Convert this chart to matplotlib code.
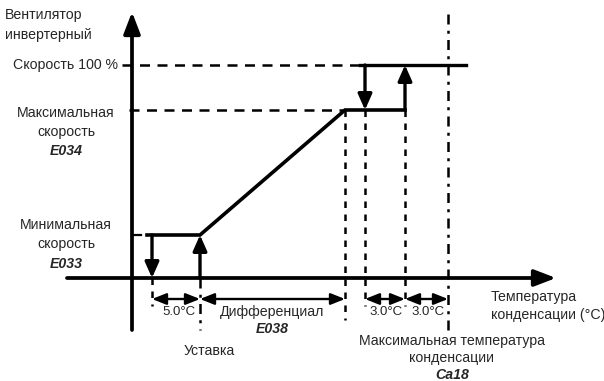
import matplotlib.pyplot as plt

plt.rcParams['font.family'] = ['Liberation Sans', 'DejaVu Sans']

# Schematic coordinates: x = condensing temperature position, y = fan speed level
# (drawing units, y grows downward)
origin_x, origin_y = 132, 278          # where the two axes cross
axis_x_range = [67, 556]               # temperature axis extent
axis_y_range = [330, 12]               # fan speed axis extent

t_cutout = 152       # fan stops (setpoint - 5.0 °C)
t_setpoint = 200     # setpoint
t_diff_end = 345     # setpoint + differential
t_full_off = 365     # leaves 100 % speed
t_full_on = 405      # goes to 100 % speed
t_max_cond = 448     # maximum condensing temperature

speed_min = 235      # E033
speed_max = 110      # E034
speed_full = 65      # 100 %

# operating curve
curve_x = [147, t_setpoint, t_diff_end, t_full_on]
curve_y = [speed_min, speed_min, speed_max, speed_max]
full_x = [360, 466]

dim_y = 299
dim_spans = [(t_cutout, t_setpoint), (t_setpoint, t_diff_end),
             (t_full_off, t_full_on), (t_full_on, t_max_cond)]

txt = '#262626'

fig = plt.figure(figsize=(6.04, 3.81), dpi=100)
ax = fig.add_axes([0, 0, 1, 1])
ax.set_xlim(0, 604)
ax.set_ylim(381, 0)
ax.axis('off')

def arrow(x0, y0, x1, y1, lw=2.4, hw=0.42, hl=0.95):
    ax.annotate('', xy=(x1, y1), xytext=(x0, y0),
                arrowprops=dict(arrowstyle=f'-|>,head_width={hw},head_length={hl}',
                                color='black', lw=lw, shrinkA=0, shrinkB=0))

def dimension(x0, x1, y):
    ax.annotate('', xy=(x1, y), xytext=(x0, y),
                arrowprops=dict(arrowstyle='<|-|>,head_width=0.34,head_length=0.85',
                                color='black', lw=1.7, shrinkA=0, shrinkB=0))

# axes
arrow(axis_x_range[0], origin_y, axis_x_range[1], origin_y, lw=2.7, hw=0.5, hl=1.3)
arrow(origin_x, axis_y_range[0], origin_x, axis_y_range[1], lw=2.7, hw=0.5, hl=1.3)

hdash = dict(color='black', lw=1.8, dashes=(4, 3))
vdash = dict(color='black', lw=1.8, dashes=(2.6, 2.6))
dashdot = dict(color='black', lw=1.8, dashes=(4, 2.5, 1.2, 2.5))
# horizontal reference dashes
ax.plot([122, full_x[0]], [speed_full, speed_full], **hdash)
ax.plot([129, t_diff_end], [speed_max, speed_max], **hdash)
ax.plot([134, 141], [speed_min, speed_min], color='black', lw=1.6)

# vertical reference lines
ax.plot([t_diff_end, t_diff_end], [speed_max, 320], **vdash)
ax.plot([t_full_off, t_full_off], [speed_max, 306], **vdash)
ax.plot([t_full_on, t_full_on], [speed_max, 306], **vdash)
ax.plot([t_cutout, t_cutout], [origin_y, 306], **vdash)
ax.plot([t_setpoint, t_setpoint], [origin_y, 330], **dashdot)
ax.plot([t_max_cond, t_max_cond], [14, 330], **dashdot)

# operating curve
ax.plot(curve_x, curve_y, color='black', lw=2.6, solid_joinstyle='miter')
ax.plot(full_x, [speed_full, speed_full], color='black', lw=2.4)
arrow(t_cutout, speed_min, t_cutout, origin_y)
arrow(t_setpoint, origin_y, t_setpoint, speed_min)
arrow(t_full_off, speed_full, t_full_off, speed_max)
arrow(t_full_on, speed_max, t_full_on, speed_full)

for a, b in dim_spans:
    dimension(a, b, dim_y)

fs = 10.2

def label(x, y, s, ha='center', **kw):
    ax.text(x, y, s, fontsize=kw.pop('size', fs), color=txt, va='center', ha=ha, **kw)

def code(x, y, s):
    label(x, y, s, fontweight='bold', fontstyle='italic')

label(5, 15, 'Вентилятор', ha='left')
label(5, 35, 'инвертерный', ha='left')
label(118, speed_full, 'Скорость 100 %', ha='right')
label(66, 113, 'Максимальная')
label(66, 132, 'скорость')
code(66, 151, 'E034')
label(66, 225, 'Минимальная')
label(66, 244, 'скорость')
code(66, 264, 'E033')

label(179, 312, '5.0°C', size=9.5)
label(272, 312, 'Дифференциал')
code(272, 329, 'E038')
label(209, 351, 'Уставка')
label(386, 312, '3.0°C', size=9.5)
label(428, 312, '3.0°C', size=9.5)
label(491, 297, 'Температура', ha='left')
label(491, 315, 'конденсации (°C)', ha='left')
label(452, 341, 'Максимальная температура')
label(452, 358, 'конденсации')
code(452, 375, 'Ca18')

fig.savefig('out.png', dpi=100, facecolor='white')
